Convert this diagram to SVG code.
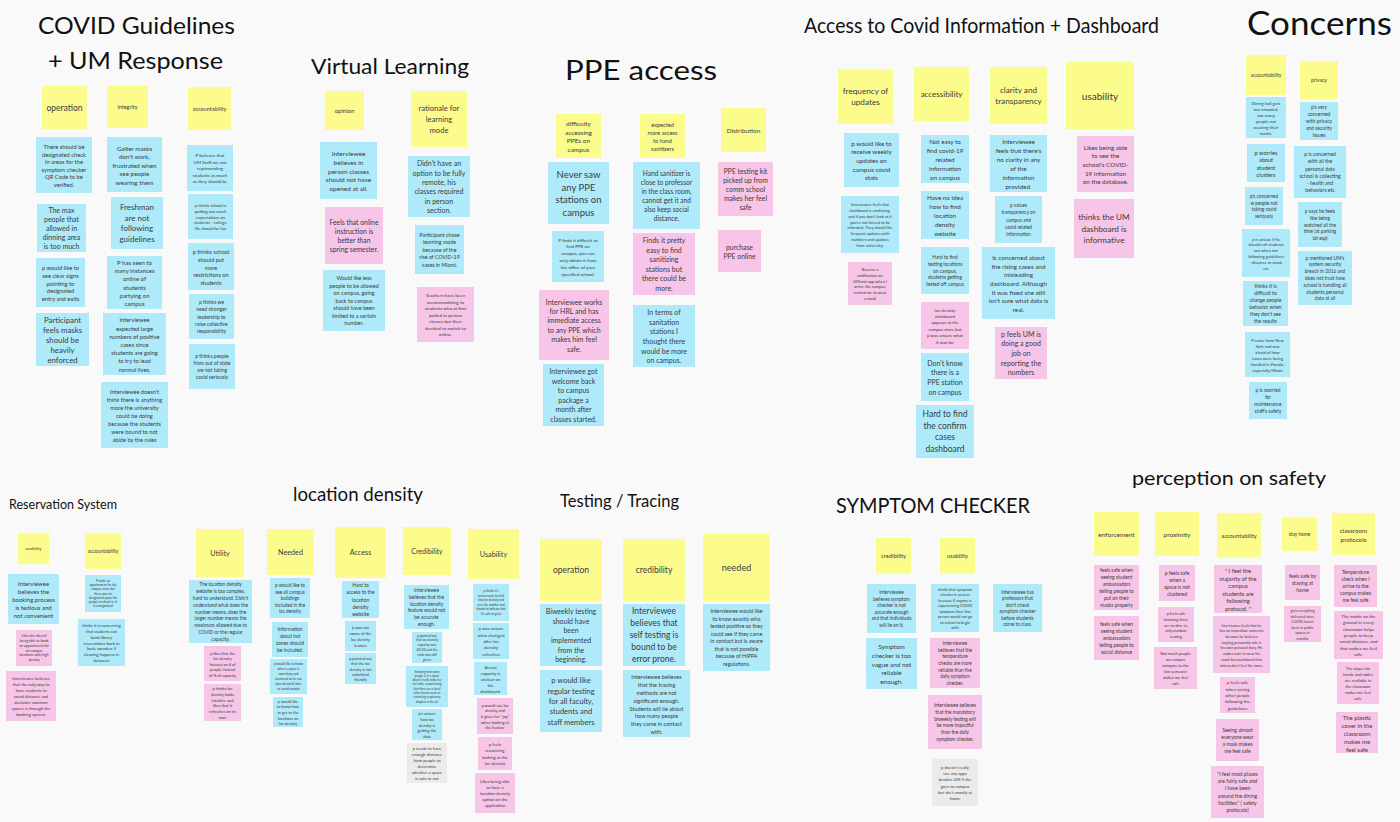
<svg xmlns="http://www.w3.org/2000/svg" width="1400" height="822" viewBox="0 0 1400 822">
<style>
.bg{fill:#f9f9f9}
.y{fill:#fcfc8d}
.b{fill:#aeeafa}
.p{fill:#f6c5e7}
.g{fill:#ebebeb}
.n,.n tspan{font-family:Lato,"Liberation Sans",sans-serif;text-anchor:middle;dominant-baseline:central;fill:#3b3b3b}
.h{font-family:Lato,"Liberation Sans",sans-serif;fill:#111}
</style>
<rect class="bg" x="0" y="0" width="1400" height="822"/>

<!-- section headings -->
<g id="titles">
<text class="h" x="38" y="34" font-size="22.5" textLength="197" lengthAdjust="spacingAndGlyphs">COVID Guidelines</text>
<text class="h" x="48" y="69" font-size="23" textLength="175" lengthAdjust="spacingAndGlyphs">+ UM Response</text>
<text class="h" x="311" y="74" font-size="22" textLength="158" lengthAdjust="spacingAndGlyphs">Virtual Learning</text>
<text class="h" x="565" y="80" font-size="26" textLength="152" lengthAdjust="spacingAndGlyphs">PPE access</text>
<text class="h" x="804" y="33" font-size="20.5" textLength="355" lengthAdjust="spacingAndGlyphs">Access to Covid Information + Dashboard</text>
<text class="h" x="1247" y="35" font-size="32" textLength="145" lengthAdjust="spacingAndGlyphs">Concerns</text>
<text class="h" x="9" y="509" font-size="12.5" textLength="108" lengthAdjust="spacingAndGlyphs">Reservation System</text>
<text class="h" x="293" y="501" font-size="19" textLength="130" lengthAdjust="spacingAndGlyphs">location density</text>
<text class="h" x="560" y="507" font-size="16.5" textLength="119" lengthAdjust="spacingAndGlyphs">Testing / Tracing</text>
<text class="h" x="836" y="513" font-size="21" textLength="194" lengthAdjust="spacingAndGlyphs">SYMPTOM CHECKER</text>
<text class="h" x="1132" y="485" font-size="18.5" textLength="194" lengthAdjust="spacingAndGlyphs">perception on safety</text>
</g>

<!-- COVID Guidelines + UM Response -->
<g id="n1"><rect class="y" x="42" y="86" width="45" height="43"/><text class="n" x="64.5" y="107.5" font-size="8.5">operation</text></g>
<g id="n2"><rect class="y" x="107" y="86" width="41" height="42"/><text class="n" x="127.5" y="107" font-size="5.5">integrity</text></g>
<g id="n3"><rect class="y" x="188" y="87" width="43" height="43"/><text class="n" x="209.5" y="108.5" font-size="5.5">accountability</text></g>
<g id="n4"><rect class="b" x="36" y="137" width="56" height="56"/><text class="n" y="146" font-size="5.8"><tspan x="64">There should be</tspan><tspan x="64" dy="7.6">designated check</tspan><tspan x="64" dy="7.6">in areas for the</tspan><tspan x="64" dy="7.6">symptom checker</tspan><tspan x="64" dy="7.6">QR Code to be</tspan><tspan x="64" dy="7.6">verified.</tspan></text></g>
<g id="n5"><rect class="b" x="37" y="204" width="49" height="48"/><text class="n" y="209.6" font-size="7"><tspan x="61.5">The max</tspan><tspan x="61.5" dy="9.2">people that</tspan><tspan x="61.5" dy="9.2">allowed in</tspan><tspan x="61.5" dy="9.2">dinning area</tspan><tspan x="61.5" dy="9.2">is too much</tspan></text></g>
<g id="n6"><rect class="b" x="36" y="258" width="49" height="49"/><text class="n" y="266.7" font-size="5.8"><tspan x="60.5">p would like to</tspan><tspan x="60.5" dy="7.9">see clear signs</tspan><tspan x="60.5" dy="7.9">pointing to</tspan><tspan x="60.5" dy="7.9">designated</tspan><tspan x="60.5" dy="7.9">entry and exits</tspan></text></g>
<g id="n7"><rect class="b" x="36" y="313" width="53" height="53"/><text class="n" y="319.5" font-size="7.8"><tspan x="62.5">Participant</tspan><tspan x="62.5" dy="10">feels masks</tspan><tspan x="62.5" dy="10">should be</tspan><tspan x="62.5" dy="10">heavily</tspan><tspan x="62.5" dy="10">enforced</tspan></text></g>
<g id="n8"><rect class="b" x="107" y="137" width="55" height="55"/><text class="n" y="147.5" font-size="6.3"><tspan x="134.5">Gaiter masks</tspan><tspan x="134.5" dy="8.5">don't work,</tspan><tspan x="134.5" dy="8.5">frustrated when</tspan><tspan x="134.5" dy="8.5">see people</tspan><tspan x="134.5" dy="8.5">wearing them</tspan></text></g>
<g id="n9"><rect class="b" x="111" y="197" width="52" height="52"/><text class="n" y="207" font-size="8"><tspan x="137">Freshman</tspan><tspan x="137" dy="10.7">are not</tspan><tspan x="137" dy="10.7">following</tspan><tspan x="137" dy="10.7">guidelines</tspan></text></g>
<g id="n10"><rect class="b" x="107" y="256" width="55" height="53"/><text class="n" y="261.8" font-size="6"><tspan x="134.5">P has seen to</tspan><tspan x="134.5" dy="8.3">many instances</tspan><tspan x="134.5" dy="8.3">online of</tspan><tspan x="134.5" dy="8.3">students</tspan><tspan x="134.5" dy="8.3">partying on</tspan><tspan x="134.5" dy="8.3">campus</tspan></text></g>
<g id="n11"><rect class="b" x="103" y="313" width="63" height="62"/><text class="n" y="319.4" font-size="5.8"><tspan x="134.5">Interviewee</tspan><tspan x="134.5" dy="8.2">expected large</tspan><tspan x="134.5" dy="8.2">numbers of positive</tspan><tspan x="134.5" dy="8.2">cases since</tspan><tspan x="134.5" dy="8.2">students are going</tspan><tspan x="134.5" dy="8.2">to try to lead</tspan><tspan x="134.5" dy="8.2">normal lives.</tspan></text></g>
<g id="n12"><rect class="b" x="101" y="382" width="67" height="66"/><text class="n" y="391" font-size="5.7"><tspan x="134.5">Interviewee doesn't</tspan><tspan x="134.5" dy="8">think there is anything</tspan><tspan x="134.5" dy="8">more the university</tspan><tspan x="134.5" dy="8">could be doing</tspan><tspan x="134.5" dy="8">because the students</tspan><tspan x="134.5" dy="8">were bound to not</tspan><tspan x="134.5" dy="8">abide by the rules</tspan></text></g>
<g id="n13"><rect class="b" x="187" y="145" width="46" height="46"/><text class="n" y="155" font-size="4.5"><tspan x="210">P believes that</tspan><tspan x="210" dy="6.5">UM Staff are not</tspan><tspan x="210" dy="6.5">reprimanding</tspan><tspan x="210" dy="6.5">students as much</tspan><tspan x="210" dy="6.5">as they should be</tspan></text></g>
<g id="n14"><rect class="b" x="188" y="194" width="45" height="45"/><text class="n" y="204.7" font-size="4.2"><tspan x="210.5">p thinks school is</tspan><tspan x="210.5" dy="5.9">putting too much</tspan><tspan x="210.5" dy="5.9">expectations on</tspan><tspan x="210.5" dy="5.9">students - college</tspan><tspan x="210.5" dy="5.9">life should be fun</tspan></text></g>
<g id="n15"><rect class="b" x="188" y="243" width="46" height="47"/><text class="n" y="250.9" font-size="5.6"><tspan x="211">p thinks school</tspan><tspan x="211" dy="7.8">should put</tspan><tspan x="211" dy="7.8">more</tspan><tspan x="211" dy="7.8">restrictions on</tspan><tspan x="211" dy="7.8">students</tspan></text></g>
<g id="n16"><rect class="b" x="189" y="294" width="45" height="45"/><text class="n" y="302.3" font-size="5"><tspan x="211.5">p thinks we</tspan><tspan x="211.5" dy="7.1">need stronger</tspan><tspan x="211.5" dy="7.1">leadership to</tspan><tspan x="211.5" dy="7.1">raise collective</tspan><tspan x="211.5" dy="7.1">responsibility</tspan></text></g>
<g id="n17"><rect class="b" x="189" y="344" width="46" height="45"/><text class="n" y="355.7" font-size="5"><tspan x="212">p thinks people</tspan><tspan x="212" dy="7.2">from out of state</tspan><tspan x="212" dy="7.2">are not taking</tspan><tspan x="212" dy="7.2">covid seriously</tspan></text></g>

<!-- Virtual Learning -->
<g id="n18"><rect class="y" x="325" y="91" width="39" height="39"/><text class="n" x="344.5" y="110.5" font-size="6">opinion</text></g>
<g id="n19"><rect class="y" x="411" y="91" width="56" height="56"/><text class="n" y="107.8" font-size="7.6"><tspan x="439">rationale for</tspan><tspan x="439" dy="11.2">learning</tspan><tspan x="439" dy="11.2">mode</tspan></text></g>
<g id="n20"><rect class="b" x="320" y="142" width="57" height="57"/><text class="n" y="152.9" font-size="6.5"><tspan x="348.5">Interviewee</tspan><tspan x="348.5" dy="8.8">believes in</tspan><tspan x="348.5" dy="8.8">person classes</tspan><tspan x="348.5" dy="8.8">should not have</tspan><tspan x="348.5" dy="8.8">opened at all.</tspan></text></g>
<g id="n21"><rect class="p" x="325" y="207" width="58" height="57"/><text class="n" y="222.2" font-size="6.8"><tspan x="354">Feels that online</tspan><tspan x="354" dy="8.9">instruction is</tspan><tspan x="354" dy="8.9">better than</tspan><tspan x="354" dy="8.9">spring semester.</tspan></text></g>
<g id="n22"><rect class="b" x="323" y="270" width="62" height="61"/><text class="n" y="278" font-size="5.4"><tspan x="354">Would like less</tspan><tspan x="354" dy="7.5">people to be allowed</tspan><tspan x="354" dy="7.5">on campus, going</tspan><tspan x="354" dy="7.5">back to campus</tspan><tspan x="354" dy="7.5">should have been</tspan><tspan x="354" dy="7.5">limited to a certain</tspan><tspan x="354" dy="7.5">number.</tspan></text></g>
<g id="n23"><rect class="b" x="408" y="156" width="62" height="61"/><text class="n" y="163.3" font-size="7"><tspan x="439">Didn't have an</tspan><tspan x="439" dy="9.3">option to be fully</tspan><tspan x="439" dy="9.3">remote, his</tspan><tspan x="439" dy="9.3">classes required</tspan><tspan x="439" dy="9.3">in person</tspan><tspan x="439" dy="9.3">section.</tspan></text></g>
<g id="n24"><rect class="b" x="415" y="225" width="49" height="49"/><text class="n" y="234.5" font-size="5.3"><tspan x="439.5">Participant chose</tspan><tspan x="439.5" dy="7.5">learning mode</tspan><tspan x="439.5" dy="7.5">because of the</tspan><tspan x="439.5" dy="7.5">rise of COVID-19</tspan><tspan x="439.5" dy="7.5">cases in Miami.</tspan></text></g>
<g id="n25"><rect class="p" x="417" y="287" width="57" height="55"/><text class="n" y="295" font-size="4.6"><tspan x="445.5">Teachers have been</tspan><tspan x="445.5" dy="6.5">accommodating to</tspan><tspan x="445.5" dy="6.5">students who at first</tspan><tspan x="445.5" dy="6.5">picked in person</tspan><tspan x="445.5" dy="6.5">classes but then</tspan><tspan x="445.5" dy="6.5">decided to switch to</tspan><tspan x="445.5" dy="6.5">online.</tspan></text></g>

<!-- PPE access -->
<g id="n26"><rect class="y" x="556" y="114" width="45" height="44"/><text class="n" y="123" font-size="6.5"><tspan x="578.5">difficulty</tspan><tspan x="578.5" dy="8.7">accessing</tspan><tspan x="578.5" dy="8.7">PPEs on</tspan><tspan x="578.5" dy="8.7">campus</tspan></text></g>
<g id="n27"><rect class="y" x="640" y="114" width="45" height="44"/><text class="n" y="123.7" font-size="5.6"><tspan x="662.5">expected</tspan><tspan x="662.5" dy="8.2">more access</tspan><tspan x="662.5" dy="8.2">to hand</tspan><tspan x="662.5" dy="8.2">sanitizers</tspan></text></g>
<g id="n28"><rect class="y" x="721" y="108" width="45" height="44"/><text class="n" x="743.5" y="130" font-size="6.4">Distribution</text></g>
<g id="n29"><rect class="b" x="548" y="162" width="61" height="62"/><text class="n" y="174.3" font-size="9.5"><tspan x="578.5">Never saw</tspan><tspan x="578.5" dy="12.5">any PPE</tspan><tspan x="578.5" dy="12.5">stations on</tspan><tspan x="578.5" dy="12.5">campus</tspan></text></g>
<g id="n30"><rect class="b" x="552" y="231" width="52" height="51"/><text class="n" y="239.5" font-size="4.6"><tspan x="578">P finds it difficult to</tspan><tspan x="578" dy="6.8">find PPE on</tspan><tspan x="578" dy="6.8">campus, you can</tspan><tspan x="578" dy="6.8">only obtain it from</tspan><tspan x="578" dy="6.8">the office of your</tspan><tspan x="578" dy="6.8">specified school.</tspan></text></g>
<g id="n31"><rect class="p" x="539" y="290" width="70" height="70"/><text class="n" y="301.5" font-size="7"><tspan x="574">Interviewee works</tspan><tspan x="574" dy="9.4">for HRL and has</tspan><tspan x="574" dy="9.4">immediate access</tspan><tspan x="574" dy="9.4">to any PPE which</tspan><tspan x="574" dy="9.4">makes him feel</tspan><tspan x="574" dy="9.4">safe.</tspan></text></g>
<g id="n32"><rect class="b" x="543" y="364" width="61" height="62"/><text class="n" y="371" font-size="7"><tspan x="573.5">Interviewee got</tspan><tspan x="573.5" dy="9.6">welcome back</tspan><tspan x="573.5" dy="9.6">to campus</tspan><tspan x="573.5" dy="9.6">package a</tspan><tspan x="573.5" dy="9.6">month after</tspan><tspan x="573.5" dy="9.6">classes started.</tspan></text></g>
<g id="n33"><rect class="b" x="633" y="162" width="67" height="67"/><text class="n" y="173" font-size="6.6"><tspan x="666.5">Hand sanitizer is</tspan><tspan x="666.5" dy="9">close to professor</tspan><tspan x="666.5" dy="9">in the class room,</tspan><tspan x="666.5" dy="9">cannot get it and</tspan><tspan x="666.5" dy="9">also keep social</tspan><tspan x="666.5" dy="9">distance.</tspan></text></g>
<g id="n34"><rect class="p" x="633" y="233" width="62" height="62"/><text class="n" y="240" font-size="7"><tspan x="664">Finds it pretty</tspan><tspan x="664" dy="9.6">easy to find</tspan><tspan x="664" dy="9.6">sanitizing</tspan><tspan x="664" dy="9.6">stations but</tspan><tspan x="664" dy="9.6">there could be</tspan><tspan x="664" dy="9.6">more.</tspan></text></g>
<g id="n35"><rect class="b" x="633" y="305" width="62" height="62"/><text class="n" y="311.8" font-size="7"><tspan x="664">In terms of</tspan><tspan x="664" dy="9.7">sanitation</tspan><tspan x="664" dy="9.7">stations I</tspan><tspan x="664" dy="9.7">thought there</tspan><tspan x="664" dy="9.7">would be more</tspan><tspan x="664" dy="9.7">on campus.</tspan></text></g>
<g id="n36"><rect class="p" x="718" y="162" width="55" height="54"/><text class="n" y="170.6" font-size="6.8"><tspan x="745.5">PPE testing kit</tspan><tspan x="745.5" dy="9.2">picked up from</tspan><tspan x="745.5" dy="9.2">comm school</tspan><tspan x="745.5" dy="9.2">makes her feel</tspan><tspan x="745.5" dy="9.2">safe</tspan></text></g>
<g id="n37"><rect class="p" x="718" y="230" width="43" height="42"/><text class="n" y="246.5" font-size="6.8"><tspan x="739.5">purchase</tspan><tspan x="739.5" dy="9">PPE online</tspan></text></g>

<!-- Access to Covid Information + Dashboard -->
<g id="n38"><rect class="y" x="838" y="69" width="55" height="55"/><text class="n" y="90.9" font-size="8.2"><tspan x="865.5">frequency of</tspan><tspan x="865.5" dy="11.3">updates</tspan></text></g>
<g id="n39"><rect class="y" x="914" y="67" width="55" height="54"/><text class="n" x="941.5" y="94" font-size="8">accessibility</text></g>
<g id="n40"><rect class="y" x="990" y="67" width="57" height="57"/><text class="n" y="89.9" font-size="8.2"><tspan x="1018.5">clarity and</tspan><tspan x="1018.5" dy="11.3">transparency</tspan></text></g>
<g id="n41"><rect class="y" x="1066" y="62" width="68" height="67"/><text class="n" x="1100" y="95.5" font-size="10">usability</text></g>
<g id="n42"><rect class="b" x="844" y="133" width="55" height="54"/><text class="n" y="142.6" font-size="6.3"><tspan x="871.5">p would like to</tspan><tspan x="871.5" dy="8.7">receive weekly</tspan><tspan x="871.5" dy="8.7">updates on</tspan><tspan x="871.5" dy="8.7">campus covid</tspan><tspan x="871.5" dy="8.7">stats</tspan></text></g>
<g id="n43"><rect class="b" x="841" y="196" width="58" height="57"/><text class="n" y="204.2" font-size="4"><tspan x="870">Interviewee feels that</tspan><tspan x="870" dy="5.8">dashboard is confusing,</tspan><tspan x="870" dy="5.8">and if you don't look at it</tspan><tspan x="870" dy="5.8">you're not forced to be</tspan><tspan x="870" dy="5.8">informed. They would like</tspan><tspan x="870" dy="5.8">frequent updates with</tspan><tspan x="870" dy="5.8">numbers and updates</tspan><tspan x="870" dy="5.8">from university.</tspan></text></g>
<g id="n44"><rect class="p" x="848" y="262" width="44" height="43"/><text class="n" y="269" font-size="4"><tspan x="870">Receive a</tspan><tspan x="870" dy="5.8">notification on</tspan><tspan x="870" dy="5.8">UMiami app when I</tspan><tspan x="870" dy="5.8">arrive the campus,</tspan><tspan x="870" dy="5.8">remind me to wear</tspan><tspan x="870" dy="5.8">a mask</tspan></text></g>
<g id="n45"><rect class="b" x="921" y="135" width="48" height="48"/><text class="n" y="141.4" font-size="6.3"><tspan x="945">Not easy to</tspan><tspan x="945" dy="8.8">find covid-19</tspan><tspan x="945" dy="8.8">related</tspan><tspan x="945" dy="8.8">information</tspan><tspan x="945" dy="8.8">on campus</tspan></text></g>
<g id="n46"><rect class="b" x="921" y="191" width="48" height="48"/><text class="n" y="197.4" font-size="6.3"><tspan x="945">Have no idea</tspan><tspan x="945" dy="8.8">how to find</tspan><tspan x="945" dy="8.8">location</tspan><tspan x="945" dy="8.8">density</tspan><tspan x="945" dy="8.8">website</tspan></text></g>
<g id="n47"><rect class="b" x="921" y="247" width="48" height="47"/><text class="n" y="256.7" font-size="4.8"><tspan x="945">Hard to find</tspan><tspan x="945" dy="6.9">testing locations</tspan><tspan x="945" dy="6.9">on campus,</tspan><tspan x="945" dy="6.9">studetns getting</tspan><tspan x="945" dy="6.9">tested off campus</tspan></text></g>
<g id="n48"><rect class="p" x="921" y="302" width="48" height="47"/><text class="n" y="309.5" font-size="4.4"><tspan x="945">loc density</tspan><tspan x="945" dy="6.4">dashboard</tspan><tspan x="945" dy="6.4">appears at the</tspan><tspan x="945" dy="6.4">campus store but</tspan><tspan x="945" dy="6.4">p was unsure what</tspan><tspan x="945" dy="6.4">it was for</tspan></text></g>
<g id="n49"><rect class="b" x="921" y="353" width="48" height="48"/><text class="n" y="362.5" font-size="7"><tspan x="945">Don't know</tspan><tspan x="945" dy="9.7">there is a</tspan><tspan x="945" dy="9.7">PPE station</tspan><tspan x="945" dy="9.7">on campus</tspan></text></g>
<g id="n50"><rect class="b" x="916" y="405" width="58" height="53"/><text class="n" y="413.8" font-size="8.5"><tspan x="945">Hard to find</tspan><tspan x="945" dy="11.8">the confirm</tspan><tspan x="945" dy="11.8">cases</tspan><tspan x="945" dy="11.8">dashboard</tspan></text></g>
<g id="n51"><rect class="b" x="990" y="135" width="57" height="57"/><text class="n" y="141.3" font-size="6.3"><tspan x="1018.5">Interviewee</tspan><tspan x="1018.5" dy="8.9">feels that there's</tspan><tspan x="1018.5" dy="8.9">no clarity in any</tspan><tspan x="1018.5" dy="8.9">of the</tspan><tspan x="1018.5" dy="8.9">information</tspan><tspan x="1018.5" dy="8.9">provided.</tspan></text></g>
<g id="n52"><rect class="b" x="995" y="196" width="47" height="47"/><text class="n" y="205.3" font-size="4.8"><tspan x="1018.5">p values</tspan><tspan x="1018.5" dy="7.1">transparency on</tspan><tspan x="1018.5" dy="7.1">campus and</tspan><tspan x="1018.5" dy="7.1">covid related</tspan><tspan x="1018.5" dy="7.1">information</tspan></text></g>
<g id="n53"><rect class="b" x="982" y="247" width="73" height="72"/><text class="n" y="257.2" font-size="6.3"><tspan x="1018.5">Is concerned about</tspan><tspan x="1018.5" dy="8.6">the rising cases and</tspan><tspan x="1018.5" dy="8.6">misleading</tspan><tspan x="1018.5" dy="8.6">dashboard. Although</tspan><tspan x="1018.5" dy="8.6">it was fixed she still</tspan><tspan x="1018.5" dy="8.6">isn't sure what data is</tspan><tspan x="1018.5" dy="8.6">real.</tspan></text></g>
<g id="n54"><rect class="p" x="995" y="327" width="52" height="52"/><text class="n" y="333.8" font-size="7"><tspan x="1021">p feels UM is</tspan><tspan x="1021" dy="9.6">doing a good</tspan><tspan x="1021" dy="9.6">job on</tspan><tspan x="1021" dy="9.6">reporting the</tspan><tspan x="1021" dy="9.6">numbers</tspan></text></g>
<g id="n55"><rect class="p" x="1077" y="136" width="57" height="56"/><text class="n" y="146.6" font-size="6.3"><tspan x="1105.5">Likes being able</tspan><tspan x="1105.5" dy="8.7">to see the</tspan><tspan x="1105.5" dy="8.7">school's COVID-</tspan><tspan x="1105.5" dy="8.7">19 information</tspan><tspan x="1105.5" dy="8.7">on the database.</tspan></text></g>
<g id="n56"><rect class="p" x="1074" y="199" width="60" height="59"/><text class="n" y="217.3" font-size="8.2"><tspan x="1104">thinks the UM</tspan><tspan x="1104" dy="11.2">dashboard is</tspan><tspan x="1104" dy="11.2">informative</tspan></text></g>

<!-- Concerns -->
<g id="n57"><rect class="y" x="1246" y="55" width="40" height="40"/><text class="n" x="1266" y="75" font-size="5">accountability</text></g>
<g id="n58"><rect class="y" x="1300" y="61" width="38" height="38"/><text class="n" x="1319" y="80" font-size="5">privacy</text></g>
<g id="n59"><rect class="b" x="1246" y="97" width="40" height="41"/><text class="n" y="102.5" font-size="4.3"><tspan x="1266">Dining hall gets</tspan><tspan x="1266" dy="6">too crowded,</tspan><tspan x="1266" dy="6">too many</tspan><tspan x="1266" dy="6">people not</tspan><tspan x="1266" dy="6">wearing their</tspan><tspan x="1266" dy="6">masks.</tspan></text></g>
<g id="n60"><rect class="b" x="1247" y="144" width="38" height="38"/><text class="n" y="151.6" font-size="5.6"><tspan x="1266">p worries</tspan><tspan x="1266" dy="7.6">about</tspan><tspan x="1266" dy="7.6">student</tspan><tspan x="1266" dy="7.6">clusters</tspan></text></g>
<g id="n61"><rect class="b" x="1245" y="187" width="38" height="38"/><text class="n" y="196.1" font-size="4.7"><tspan x="1264">p's concerned</tspan><tspan x="1264" dy="6.6">w people not</tspan><tspan x="1264" dy="6.6">taking covid</tspan><tspan x="1264" dy="6.6">seriously</tspan></text></g>
<g id="n62"><rect class="b" x="1242" y="229" width="48" height="48"/><text class="n" y="238.5" font-size="4.1"><tspan x="1266">p is unsure if he</tspan><tspan x="1266" dy="5.8">should call students</tspan><tspan x="1266" dy="5.8">out when not</tspan><tspan x="1266" dy="5.8">following guidelines</tspan><tspan x="1266" dy="5.8">- distance or mask,</tspan><tspan x="1266" dy="5.8">etc</tspan></text></g>
<g id="n63"><rect class="b" x="1243" y="281" width="45" height="45"/><text class="n" y="286" font-size="5"><tspan x="1265.5">thinks it is</tspan><tspan x="1265.5" dy="7">difficult to</tspan><tspan x="1265.5" dy="7">change people</tspan><tspan x="1265.5" dy="7">behavior when</tspan><tspan x="1265.5" dy="7">they don't see</tspan><tspan x="1265.5" dy="7">the results</tspan></text></g>
<g id="n64"><rect class="b" x="1245" y="332" width="45" height="45"/><text class="n" y="339.5" font-size="4.2"><tspan x="1267.5">P came from New</tspan><tspan x="1267.5" dy="6">York and was</tspan><tspan x="1267.5" dy="6">afraid of how</tspan><tspan x="1267.5" dy="6">cases were being</tspan><tspan x="1267.5" dy="6">handled in Florida,</tspan><tspan x="1267.5" dy="6">especially Miami</tspan></text></g>
<g id="n65"><rect class="b" x="1249" y="382" width="38" height="37"/><text class="n" y="390.2" font-size="4.9"><tspan x="1268">p is worried</tspan><tspan x="1268" dy="6.9">for</tspan><tspan x="1268" dy="6.9">maintenance</tspan><tspan x="1268" dy="6.9">staff's safety</tspan></text></g>
<g id="n66"><rect class="b" x="1300" y="102" width="38" height="38"/><text class="n" y="107.2" font-size="4.9"><tspan x="1319">p's very</tspan><tspan x="1319" dy="6.9">concerned</tspan><tspan x="1319" dy="6.9">with privacy</tspan><tspan x="1319" dy="6.9">and security</tspan><tspan x="1319" dy="6.9">issues</tspan></text></g>
<g id="n67"><rect class="b" x="1294" y="146" width="52" height="52"/><text class="n" y="154.3" font-size="5"><tspan x="1320">p is concerned</tspan><tspan x="1320" dy="7.1">with all the</tspan><tspan x="1320" dy="7.1">personal data</tspan><tspan x="1320" dy="7.1">school is collecting</tspan><tspan x="1320" dy="7.1">- health and</tspan><tspan x="1320" dy="7.1">behaviors etc</tspan></text></g>
<g id="n68"><rect class="b" x="1298" y="202" width="44" height="45"/><text class="n" y="210.9" font-size="4.8"><tspan x="1320">p says he feels</tspan><tspan x="1320" dy="6.8">like being</tspan><tspan x="1320" dy="6.8">watched all the</tspan><tspan x="1320" dy="6.8">time (at parking</tspan><tspan x="1320" dy="6.8">lot esp)</tspan></text></g>
<g id="n69"><rect class="b" x="1298" y="251" width="54" height="54"/><text class="n" y="257.6" font-size="4.8"><tspan x="1325">p mentioned UM's</tspan><tspan x="1325" dy="6.8">system security</tspan><tspan x="1325" dy="6.8">breach in 2016 and</tspan><tspan x="1325" dy="6.8">does not trust how</tspan><tspan x="1325" dy="6.8">school is handling all</tspan><tspan x="1325" dy="6.8">students personal</tspan><tspan x="1325" dy="6.8">data at all</tspan></text></g>

<!-- Reservation System -->
<g id="n70"><rect class="y" x="18" y="533" width="31" height="31"/><text class="n" x="33.5" y="548.5" font-size="4.5">usability</text></g>
<g id="n71"><rect class="y" x="85" y="533" width="36" height="36"/><text class="n" x="103" y="551" font-size="5">accountability</text></g>
<g id="n72"><rect class="b" x="8" y="574" width="51" height="50"/><text class="n" y="582.8" font-size="6"><tspan x="33.5">Interviewee</tspan><tspan x="33.5" dy="8.1">believes the</tspan><tspan x="33.5" dy="8.1">booking process</tspan><tspan x="33.5" dy="8.1">is tedious and</tspan><tspan x="33.5" dy="8.1">not convenient</tspan></text></g>
<g id="n73"><rect class="p" x="16" y="630" width="36" height="36"/><text class="n" y="635.8" font-size="3.5"><tspan x="34">Likes the idea of</tspan><tspan x="34" dy="4.9">being able to book</tspan><tspan x="34" dy="4.9">an appointment for</tspan><tspan x="34" dy="4.9">on campus</tspan><tspan x="34" dy="4.9">locations with high</tspan><tspan x="34" dy="4.9">density</tspan></text></g>
<g id="n74"><rect class="p" x="6" y="671" width="50" height="50"/><text class="n" y="678.3" font-size="4.2"><tspan x="31">Interviewee believes</tspan><tspan x="31" dy="5.9">that the only way to</tspan><tspan x="31" dy="5.9">force students to</tspan><tspan x="31" dy="5.9">social distance and</tspan><tspan x="31" dy="5.9">declutter common</tspan><tspan x="31" dy="5.9">spaces is through the</tspan><tspan x="31" dy="5.9">booking system.</tspan></text></g>
<g id="n75"><rect class="b" x="85" y="575" width="36" height="37"/><text class="n" y="580.6" font-size="3.1"><tspan x="103">P made an</tspan><tspan x="103" dy="4.3">appointment for the</tspan><tspan x="103" dy="4.3">campus store but</tspan><tspan x="103" dy="4.3">there was no</tspan><tspan x="103" dy="4.3">designated space for</tspan><tspan x="103" dy="4.3">people to check in. It</tspan><tspan x="103" dy="4.3">is unorganized</tspan></text></g>
<g id="n76"><rect class="b" x="78" y="619" width="47" height="47"/><text class="n" y="625.1" font-size="4.1"><tspan x="101.5">thinks it is concerning</tspan><tspan x="101.5" dy="5.8">that students can</tspan><tspan x="101.5" dy="5.8">book library</tspan><tspan x="101.5" dy="5.8">reservations back to</tspan><tspan x="101.5" dy="5.8">back, wonders if</tspan><tspan x="101.5" dy="5.8">cleaning happens in</tspan><tspan x="101.5" dy="5.8">between</tspan></text></g>

<!-- location density -->
<g id="n77"><rect class="y" x="196" y="529" width="48" height="48"/><text class="n" x="220" y="553" font-size="7.2">Utility</text></g>
<g id="n78"><rect class="y" x="267" y="529" width="47" height="46"/><text class="n" x="290.5" y="552" font-size="7.2">Needed</text></g>
<g id="n79"><rect class="y" x="335" y="527" width="51" height="51"/><text class="n" x="360.5" y="552.5" font-size="7.2">Access</text></g>
<g id="n80"><rect class="y" x="403" y="527" width="48" height="48"/><text class="n" x="427" y="551" font-size="7">Credibility</text></g>
<g id="n81"><rect class="y" x="468" y="529" width="51" height="50"/><text class="n" x="493.5" y="554" font-size="7.2">Usability</text></g>
<g id="n82"><rect class="b" x="189" y="580" width="63" height="63"/><text class="n" y="583.9" font-size="4.8"><tspan x="220.5">The location density</tspan><tspan x="220.5" dy="6.9">website is too complex,</tspan><tspan x="220.5" dy="6.9">hard to understand. Didn't</tspan><tspan x="220.5" dy="6.9">understand what does the</tspan><tspan x="220.5" dy="6.9">number means, does the</tspan><tspan x="220.5" dy="6.9">larger number means the</tspan><tspan x="220.5" dy="6.9">maximum allowed due to</tspan><tspan x="220.5" dy="6.9">COVID or the regular</tspan><tspan x="220.5" dy="6.9">capacity.</tspan></text></g>
<g id="n83"><rect class="p" x="204" y="646" width="37" height="35"/><text class="n" y="652.5" font-size="3.9"><tspan x="222.5">p likes that the</tspan><tspan x="222.5" dy="5.5">loc density</tspan><tspan x="222.5" dy="5.5">focuses on # of</tspan><tspan x="222.5" dy="5.5">people instead</tspan><tspan x="222.5" dy="5.5">of % of capacity</tspan></text></g>
<g id="n84"><rect class="p" x="204" y="684" width="37" height="37"/><text class="n" y="688.3" font-size="4"><tspan x="222.5">p thinks loc</tspan><tspan x="222.5" dy="5.7">density looks</tspan><tspan x="222.5" dy="5.7">intuitive and</tspan><tspan x="222.5" dy="5.7">likes that it</tspan><tspan x="222.5" dy="5.7">refreshes on its</tspan><tspan x="222.5" dy="5.7">own</tspan></text></g>
<g id="n85"><rect class="b" x="270" y="578" width="40" height="40"/><text class="n" y="585" font-size="4.7"><tspan x="290">p would like to</tspan><tspan x="290" dy="6.5">see all campus</tspan><tspan x="290" dy="6.5">buildings</tspan><tspan x="290" dy="6.5">included in the</tspan><tspan x="290" dy="6.5">loc density</tspan></text></g>
<g id="n86"><rect class="b" x="272" y="622" width="36" height="35"/><text class="n" y="629.3" font-size="4.9"><tspan x="290">Information</tspan><tspan x="290" dy="6.8">about hot</tspan><tspan x="290" dy="6.8">zones should</tspan><tspan x="290" dy="6.8">be included.</tspan></text></g>
<g id="n87"><rect class="b" x="270" y="659" width="37" height="35"/><text class="n" y="664" font-size="3.2"><tspan x="288.5">p would like to know</tspan><tspan x="288.5" dy="5">when a space is</tspan><tspan x="288.5" dy="5">most busy and</tspan><tspan x="288.5" dy="5">clustered so he can</tspan><tspan x="288.5" dy="5">plan ahead of time</tspan><tspan x="288.5" dy="5">to avoid crowds</tspan></text></g>
<g id="n88"><rect class="b" x="273" y="697" width="30" height="30"/><text class="n" y="700.8" font-size="3.9"><tspan x="288">p would like</tspan><tspan x="288" dy="5.6">to know how</tspan><tspan x="288" dy="5.6">to get to the</tspan><tspan x="288" dy="5.6">locations on</tspan><tspan x="288" dy="5.6">loc density</tspan></text></g>
<g id="n89"><rect class="b" x="342" y="581" width="37" height="37"/><text class="n" y="585.3" font-size="5"><tspan x="360.5">Hard to</tspan><tspan x="360.5" dy="7.1">access to the</tspan><tspan x="360.5" dy="7.1">location</tspan><tspan x="360.5" dy="7.1">density</tspan><tspan x="360.5" dy="7.1">website</tspan></text></g>
<g id="n90"><rect class="b" x="345" y="621" width="31" height="30"/><text class="n" y="627.3" font-size="4"><tspan x="360.5">p was not</tspan><tspan x="360.5" dy="5.8">aware of the</tspan><tspan x="360.5" dy="5.8">loc density</tspan><tspan x="360.5" dy="5.8">feature</tspan></text></g>
<g id="n91"><rect class="b" x="345" y="653" width="31" height="31"/><text class="n" y="657.7" font-size="3.8"><tspan x="360.5">p pointed out</tspan><tspan x="360.5" dy="5.4">that the loc</tspan><tspan x="360.5" dy="5.4">density is not</tspan><tspan x="360.5" dy="5.4">colorblind</tspan><tspan x="360.5" dy="5.4">friendly</tspan></text></g>
<g id="n92"><rect class="b" x="404" y="585" width="45" height="44"/><text class="n" y="590.3" font-size="4.8"><tspan x="426.5">Interviewee</tspan><tspan x="426.5" dy="6.7">believes that the</tspan><tspan x="426.5" dy="6.7">location density</tspan><tspan x="426.5" dy="6.7">feature would not</tspan><tspan x="426.5" dy="6.7">be accurate</tspan><tspan x="426.5" dy="6.7">enough.</tspan></text></g>
<g id="n93"><rect class="b" x="412" y="632" width="30" height="31"/><text class="n" y="635.5" font-size="3.3"><tspan x="427">p pointed out</tspan><tspan x="427" dy="4.8">that loc density</tspan><tspan x="427" dy="4.8">capacity was</tspan><tspan x="427" dy="4.8">40/30 and the</tspan><tspan x="427" dy="4.8">color was still</tspan><tspan x="427" dy="4.8">green</tspan></text></g>
<g id="n94"><rect class="b" x="406" y="666" width="42" height="41"/><text class="n" y="671.5" font-size="2.9"><tspan x="427">knowing how many</tspan><tspan x="427" dy="4.3">people is in a space</tspan><tspan x="427" dy="4.3">doesn't really make her</tspan><tspan x="427" dy="4.3">feel safer, reason being</tspan><tspan x="427" dy="4.3">that there are a lot of</tspan><tspan x="427" dy="4.3">other factors such as</tspan><tspan x="427" dy="4.3">remaining respiratory</tspan><tspan x="427" dy="4.3">droplets in the air</tspan></text></g>
<g id="n95"><rect class="b" x="412" y="709" width="30" height="31"/><text class="n" y="713.1" font-size="4"><tspan x="427">p's unsure</tspan><tspan x="427" dy="5.7">how loc</tspan><tspan x="427" dy="5.7">density is</tspan><tspan x="427" dy="5.7">getting the</tspan><tspan x="427" dy="5.7">data</tspan></text></g>
<g id="n96"><rect class="g" x="407" y="743" width="40" height="40"/><text class="n" y="747.8" font-size="4.2"><tspan x="427">p needs to have</tspan><tspan x="427" dy="6.1">enough distance</tspan><tspan x="427" dy="6.1">from people to</tspan><tspan x="427" dy="6.1">determine</tspan><tspan x="427" dy="6.1">whether a space</tspan><tspan x="427" dy="6.1">is safe or not</tspan></text></g>
<g id="n97"><rect class="b" x="473" y="584" width="36" height="37"/><text class="n" y="591.3" font-size="3"><tspan x="491">p thinks it's</tspan><tspan x="491" dy="4.5">unnecessary to click</tspan><tspan x="491" dy="4.5">into loc density and</tspan><tspan x="491" dy="4.5">sees the number and</tspan><tspan x="491" dy="4.5">thumb to indicate that</tspan><tspan x="491" dy="4.5">it's safe to go in</tspan></text></g>
<g id="n98"><rect class="b" x="473" y="623" width="36" height="36"/><text class="n" y="628.4" font-size="4.4"><tspan x="491">p was unsure</tspan><tspan x="491" dy="6.3">what changed</tspan><tspan x="491" dy="6.3">after loc</tspan><tspan x="491" dy="6.3">density</tspan><tspan x="491" dy="6.3">refreshes</tspan></text></g>
<g id="n99"><rect class="b" x="474" y="662" width="33" height="33"/><text class="n" y="666.5" font-size="4.3"><tspan x="490.5">Actual</tspan><tspan x="490.5" dy="6">capacity is</tspan><tspan x="490.5" dy="6">unclear on</tspan><tspan x="490.5" dy="6">the</tspan><tspan x="490.5" dy="6">dashboard.</tspan></text></g>
<g id="n100"><rect class="p" x="477" y="698" width="36" height="36"/><text class="n" y="704.6" font-size="4"><tspan x="495">p would use loc</tspan><tspan x="495" dy="5.7">density and</tspan><tspan x="495" dy="5.7">it gives her "joy"</tspan><tspan x="495" dy="5.7">when looking at</tspan><tspan x="495" dy="5.7">the feature</tspan></text></g>
<g id="n101"><rect class="p" x="478" y="737" width="34" height="33"/><text class="n" y="744.2" font-size="4.3"><tspan x="495">p feels</tspan><tspan x="495" dy="6.2">reassuring</tspan><tspan x="495" dy="6.2">looking at the</tspan><tspan x="495" dy="6.2">loc density</tspan></text></g>
<g id="n102"><rect class="p" x="475" y="773" width="40" height="40"/><text class="n" y="780.8" font-size="4.3"><tspan x="495">Likes being able</tspan><tspan x="495" dy="6.1">to have a</tspan><tspan x="495" dy="6.1">location density</tspan><tspan x="495" dy="6.1">option on the</tspan><tspan x="495" dy="6.1">application</tspan></text></g>

<!-- Testing / Tracing -->
<g id="n103"><rect class="y" x="540" y="539" width="62" height="62"/><text class="n" x="571" y="570" font-size="8.5">operation</text></g>
<g id="n104"><rect class="y" x="623" y="539" width="62" height="62"/><text class="n" x="654" y="570" font-size="8.5">credibility</text></g>
<g id="n105"><rect class="y" x="703" y="534" width="67" height="67"/><text class="n" x="736.5" y="567.5" font-size="9">needed</text></g>
<g id="n106"><rect class="b" x="540" y="604" width="62" height="62"/><text class="n" y="610.8" font-size="7"><tspan x="571">Biweekly testing</tspan><tspan x="571" dy="9.7">should have</tspan><tspan x="571" dy="9.7">been</tspan><tspan x="571" dy="9.7">implemented</tspan><tspan x="571" dy="9.7">from the</tspan><tspan x="571" dy="9.7">beginning.</tspan></text></g>
<g id="n107"><rect class="b" x="540" y="670" width="62" height="62"/><text class="n" y="680.2" font-size="7.5"><tspan x="571">p would like</tspan><tspan x="571" dy="10.4">regular testing</tspan><tspan x="571" dy="10.4">for all faculty,</tspan><tspan x="571" dy="10.4">students and</tspan><tspan x="571" dy="10.4">staff members</tspan></text></g>
<g id="n108"><rect class="b" x="623" y="604" width="62" height="62"/><text class="n" y="611.4" font-size="8.5"><tspan x="654">Interviewee</tspan><tspan x="654" dy="11.8">believes that</tspan><tspan x="654" dy="11.8">self testing is</tspan><tspan x="654" dy="11.8">bound to be</tspan><tspan x="654" dy="11.8">error prone.</tspan></text></g>
<g id="n109"><rect class="b" x="623" y="670" width="67" height="67"/><text class="n" y="675.9" font-size="5.6"><tspan x="656.5">Interviewee believes</tspan><tspan x="656.5" dy="7.9">that the tracing</tspan><tspan x="656.5" dy="7.9">methods are not</tspan><tspan x="656.5" dy="7.9">significant enough.</tspan><tspan x="656.5" dy="7.9">Students will lie about</tspan><tspan x="656.5" dy="7.9">how many people</tspan><tspan x="656.5" dy="7.9">they came in contact</tspan><tspan x="656.5" dy="7.9">with.</tspan></text></g>
<g id="n110"><rect class="b" x="703" y="604" width="67" height="67"/><text class="n" y="611.3" font-size="5.3"><tspan x="736.5">Interviewee would like</tspan><tspan x="736.5" dy="7.5">to know exactly who</tspan><tspan x="736.5" dy="7.5">tested positive so they</tspan><tspan x="736.5" dy="7.5">could see if they came</tspan><tspan x="736.5" dy="7.5">in contact but is aware</tspan><tspan x="736.5" dy="7.5">that is not possible</tspan><tspan x="736.5" dy="7.5">because  of HIPPA</tspan><tspan x="736.5" dy="7.5">regulations.</tspan></text></g>

<!-- SYMPTOM CHECKER -->
<g id="n111"><rect class="y" x="876" y="538" width="35" height="35"/><text class="n" x="893.5" y="555.5" font-size="5.8">credibility</text></g>
<g id="n112"><rect class="y" x="940" y="538" width="35" height="35"/><text class="n" x="957.5" y="555.5" font-size="5.8">usability</text></g>
<g id="n113"><rect class="b" x="867" y="584" width="49" height="49"/><text class="n" y="592.3" font-size="4.7"><tspan x="891.5">Interviewee</tspan><tspan x="891.5" dy="6.5">believes symptom</tspan><tspan x="891.5" dy="6.5">checker is not</tspan><tspan x="891.5" dy="6.5">accurate enough</tspan><tspan x="891.5" dy="6.5">and that individuals</tspan><tspan x="891.5" dy="6.5">will lie on it.</tspan></text></g>
<g id="n114"><rect class="b" x="866" y="638" width="51" height="51"/><text class="n" y="646.1" font-size="6.4"><tspan x="891.5">Symptom</tspan><tspan x="891.5" dy="8.7">checker is too</tspan><tspan x="891.5" dy="8.7">vague and not</tspan><tspan x="891.5" dy="8.7">reliable</tspan><tspan x="891.5" dy="8.7">enough.</tspan></text></g>
<g id="n115"><rect class="b" x="931" y="584" width="48" height="48"/><text class="n" y="588.8" font-size="3.8"><tspan x="955">thinks that symptom</tspan><tspan x="955" dy="5.5">checker is useless</tspan><tspan x="955" dy="5.5">because if anyone is</tspan><tspan x="955" dy="5.5">experiencing COVID</tspan><tspan x="955" dy="5.5">symptom then that</tspan><tspan x="955" dy="5.5">person would not go</tspan><tspan x="955" dy="5.5">to school to begin</tspan><tspan x="955" dy="5.5">with</tspan></text></g>
<g id="n116"><rect class="p" x="930" y="638" width="50" height="50"/><text class="n" y="642.9" font-size="4.7"><tspan x="955">Interviewee</tspan><tspan x="955" dy="6.7">believes that the</tspan><tspan x="955" dy="6.7">temperature</tspan><tspan x="955" dy="6.7">checks are more</tspan><tspan x="955" dy="6.7">reliable than the</tspan><tspan x="955" dy="6.7">daily symptom</tspan><tspan x="955" dy="6.7">checker.</tspan></text></g>
<g id="n117"><rect class="p" x="928" y="695" width="54" height="54"/><text class="n" y="705.3" font-size="4.7"><tspan x="955">Interviewee believes</tspan><tspan x="955" dy="6.7">that the mandatory</tspan><tspan x="955" dy="6.7">biweekly testing will</tspan><tspan x="955" dy="6.7">be more impactful</tspan><tspan x="955" dy="6.7">than the daily</tspan><tspan x="955" dy="6.7">symptom checker.</tspan></text></g>
<g id="n118"><rect class="g" x="932" y="759" width="46" height="47"/><text class="n" y="766.8" font-size="4.2"><tspan x="955">p doesn't really</tspan><tspan x="955" dy="6.3">use any apps</tspan><tspan x="955" dy="6.3">besides UM if she</tspan><tspan x="955" dy="6.3">goes to campus</tspan><tspan x="955" dy="6.3">but she's mostly at</tspan><tspan x="955" dy="6.3">home</tspan></text></g>
<g id="n119"><rect class="b" x="993" y="584" width="49" height="48"/><text class="n" y="591.8" font-size="4.7"><tspan x="1017.5">Interviewee has</tspan><tspan x="1017.5" dy="6.5">professors that</tspan><tspan x="1017.5" dy="6.5">don't check</tspan><tspan x="1017.5" dy="6.5">symptom checker</tspan><tspan x="1017.5" dy="6.5">before students</tspan><tspan x="1017.5" dy="6.5">come to class.</tspan></text></g>

<!-- perception on safety -->
<g id="n120"><rect class="y" x="1094" y="512" width="45" height="44"/><text class="n" x="1116.5" y="534" font-size="6.5">enforcement</text></g>
<g id="n121"><rect class="y" x="1155" y="512" width="44" height="44"/><text class="n" x="1177" y="534" font-size="6.5">proximity</text></g>
<g id="n122"><rect class="y" x="1217" y="513" width="44" height="44"/><text class="n" x="1239" y="535" font-size="5.8">accountability</text></g>
<g id="n123"><rect class="y" x="1282" y="517" width="35" height="34"/><text class="n" x="1299.5" y="534" font-size="4.8">stay home</text></g>
<g id="n124"><rect class="y" x="1332" y="513" width="43" height="42"/><text class="n" y="529.5" font-size="6.3"><tspan x="1353.5">classroom</tspan><tspan x="1353.5" dy="9">protocols</tspan></text></g>
<g id="n125"><rect class="p" x="1094" y="565" width="45" height="45"/><text class="n" y="570.3" font-size="4.9"><tspan x="1116.5">feels safe when</tspan><tspan x="1116.5" dy="6.9">seeing student</tspan><tspan x="1116.5" dy="6.9">ambassadors</tspan><tspan x="1116.5" dy="6.9">telling people to</tspan><tspan x="1116.5" dy="6.9">put on their</tspan><tspan x="1116.5" dy="6.9">masks properly</tspan></text></g>
<g id="n126"><rect class="p" x="1094" y="616" width="45" height="44"/><text class="n" y="624.2" font-size="4.9"><tspan x="1116.5">feels safe when</tspan><tspan x="1116.5" dy="6.9">seeing student</tspan><tspan x="1116.5" dy="6.9">ambassadors</tspan><tspan x="1116.5" dy="6.9">telling people to</tspan><tspan x="1116.5" dy="6.9">social distance</tspan></text></g>
<g id="n127"><rect class="p" x="1159" y="565" width="36" height="36"/><text class="n" y="572.5" font-size="5"><tspan x="1177">p feels safe</tspan><tspan x="1177" dy="7">when a</tspan><tspan x="1177" dy="7">space is not</tspan><tspan x="1177" dy="7">clustered</tspan></text></g>
<g id="n128"><rect class="p" x="1158" y="607" width="36" height="35"/><text class="n" y="613.3" font-size="3.8"><tspan x="1176">p feels safe</tspan><tspan x="1176" dy="5.6">knowing there</tspan><tspan x="1176" dy="5.6">are no dine-in,</tspan><tspan x="1176" dy="5.6">only outdoor</tspan><tspan x="1176" dy="5.6">seating</tspan></text></g>
<g id="n129"><rect class="p" x="1154" y="647" width="43" height="42"/><text class="n" y="653" font-size="4"><tspan x="1175.5">Not much people</tspan><tspan x="1175.5" dy="6">on campus</tspan><tspan x="1175.5" dy="6">compare to the</tspan><tspan x="1175.5" dy="6">last semester</tspan><tspan x="1175.5" dy="6">makes me feel</tspan><tspan x="1175.5" dy="6">safe</tspan></text></g>
<g id="n130"><rect class="p" x="1214" y="565" width="48" height="48"/><text class="n" y="570" font-size="5.8"><tspan x="1238">" I feel the</tspan><tspan x="1238" dy="7.6">majority of the</tspan><tspan x="1238" dy="7.6">campus</tspan><tspan x="1238" dy="7.6">students are</tspan><tspan x="1238" dy="7.6">following</tspan><tspan x="1238" dy="7.6">protocol. "</tspan></text></g>
<g id="n131"><rect class="p" x="1213" y="616" width="57" height="57"/><text class="n" y="624.6" font-size="3.7"><tspan x="1241.5">Interviewee feels that he</tspan><tspan x="1241.5" dy="5.7">has no immediate concerns</tspan><tspan x="1241.5" dy="5.7">because he believes</tspan><tspan x="1241.5" dy="5.7">staying personally safe is</tspan><tspan x="1241.5" dy="5.7">his own personal duty. He</tspan><tspan x="1241.5" dy="5.7">makes sure to wear his</tspan><tspan x="1241.5" dy="5.7">mask but mentioned that</tspan><tspan x="1241.5" dy="5.7">others don't feel the same.</tspan></text></g>
<g id="n132"><rect class="p" x="1220" y="677" width="35" height="36"/><text class="n" y="682.2" font-size="4.4"><tspan x="1237.5">p feels safe</tspan><tspan x="1237.5" dy="6.4">when seeing</tspan><tspan x="1237.5" dy="6.4">other people</tspan><tspan x="1237.5" dy="6.4">following the</tspan><tspan x="1237.5" dy="6.4">guidelines</tspan></text></g>
<g id="n133"><rect class="p" x="1216" y="719" width="43" height="42"/><text class="n" y="729.5" font-size="5"><tspan x="1237.5">Seeing almost</tspan><tspan x="1237.5" dy="7">everyone wear</tspan><tspan x="1237.5" dy="7">a mask makes</tspan><tspan x="1237.5" dy="7">me feel safe</tspan></text></g>
<g id="n134"><rect class="p" x="1211" y="766" width="53" height="52"/><text class="n" y="773.8" font-size="5.1"><tspan x="1237.5">"I feel most places</tspan><tspan x="1237.5" dy="7.3">are fairly safe and</tspan><tspan x="1237.5" dy="7.3">I have been</tspan><tspan x="1237.5" dy="7.3">around the dining</tspan><tspan x="1237.5" dy="7.3">facilities." ( safety</tspan><tspan x="1237.5" dy="7.3">protocols)</tspan></text></g>
<g id="n135"><rect class="p" x="1285" y="565" width="35" height="35"/><text class="n" y="575.5" font-size="5"><tspan x="1302.5">feels safe by</tspan><tspan x="1302.5" dy="7">staying at</tspan><tspan x="1302.5" dy="7">home</tspan></text></g>
<g id="n136"><rect class="p" x="1284" y="606" width="37" height="36"/><text class="n" y="610.3" font-size="3.6"><tspan x="1302.5">gets everything</tspan><tspan x="1302.5" dy="5.5">delivered since</tspan><tspan x="1302.5" dy="5.5">COVID, hasn't</tspan><tspan x="1302.5" dy="5.5">been in public</tspan><tspan x="1302.5" dy="5.5">spaces in</tspan><tspan x="1302.5" dy="5.5">months</tspan></text></g>
<g id="n137"><rect class="p" x="1334" y="565" width="43" height="42"/><text class="n" y="572.2" font-size="4.9"><tspan x="1355.5">Temperature</tspan><tspan x="1355.5" dy="6.9">check when I</tspan><tspan x="1355.5" dy="6.9">arrive to the</tspan><tspan x="1355.5" dy="6.9">campus makes</tspan><tspan x="1355.5" dy="6.9">me feel safe</tspan></text></g>
<g id="n138"><rect class="p" x="1334" y="611" width="49" height="48"/><text class="n" y="615.8" font-size="4.5"><tspan x="1358.5">The marks on the</tspan><tspan x="1358.5" dy="6.4">ground in every</tspan><tspan x="1358.5" dy="6.4">classroom helps</tspan><tspan x="1358.5" dy="6.4">people to keep</tspan><tspan x="1358.5" dy="6.4">social distance, and</tspan><tspan x="1358.5" dy="6.4">that makes me feel</tspan><tspan x="1358.5" dy="6.4">safe.</tspan></text></g>
<g id="n139"><rect class="p" x="1337" y="662" width="42" height="42"/><text class="n" y="668" font-size="4.1"><tspan x="1358">The wipes for</tspan><tspan x="1358" dy="6">hands and tables</tspan><tspan x="1358" dy="6">are available in</tspan><tspan x="1358" dy="6">the classroom</tspan><tspan x="1358" dy="6">makes me feel</tspan><tspan x="1358" dy="6">safe</tspan></text></g>
<g id="n140"><rect class="p" x="1336" y="712" width="42" height="41"/><text class="n" y="716.5" font-size="6"><tspan x="1357">The plastic</tspan><tspan x="1357" dy="8">cover in the</tspan><tspan x="1357" dy="8">classroom</tspan><tspan x="1357" dy="8">makes me</tspan><tspan x="1357" dy="8">feel safe</tspan></text></g>

<!-- no connectors are drawn on this board -->
<g id="connectors"/>
</svg>
